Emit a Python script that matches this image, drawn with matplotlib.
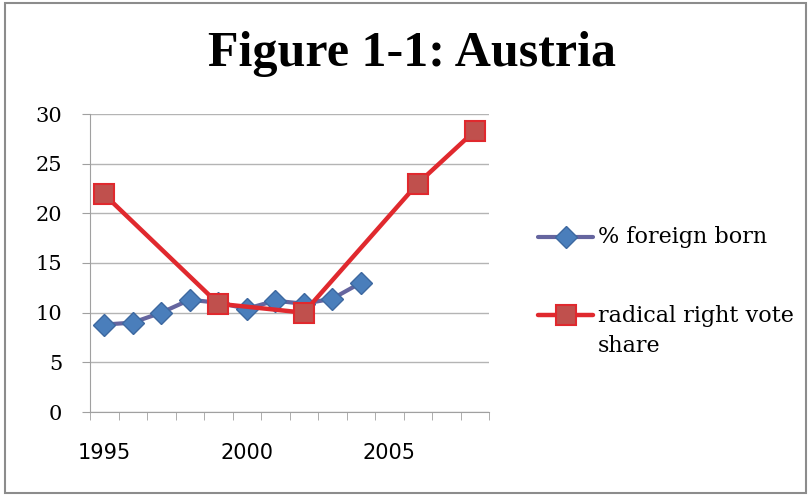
import matplotlib.pyplot as plt
from matplotlib.patches import Rectangle
from matplotlib.lines import Line2D

# data
years = list(range(1995, 2009))
foreign_years = [1995, 1996, 1997, 1998, 1999, 2000, 2001, 2002, 2003, 2004]
foreign_born = [8.8, 9.0, 10.0, 11.3, 11.0, 10.4, 11.2, 10.9, 11.4, 13.0]
vote_years = [1995, 1999, 2002, 2006, 2008]
vote_share = [21.9, 10.9, 10.0, 23.0, 28.3]
xtick_labels = ['1995', '2000', '2005']
series_labels = ['% foreign born', 'radical right vote\nshare']

W, H = 808, 495


def fx(px):
    return px / W


def fy(px):
    return 1 - px / H


def main():
    fig = plt.figure(figsize=(W / 100, H / 100), dpi=100)
    ax = fig.add_axes([fx(90), fy(412), 399 / W, 298 / H])

    # chart area border
    fig.patches.append(Rectangle((fx(5), fy(493)), 801 / W, 490 / H,
                                 transform=fig.transFigure, fill=False,
                                 edgecolor='#8c8c8c', linewidth=1.5))

    # categories are placed 0..13 like an Excel category axis
    xf = [y - years[0] for y in foreign_years]
    xv = [y - years[0] for y in vote_years]

    blue = dict(color='#65659f', linewidth=3, marker='D', markersize=11,
                markerfacecolor='#4a7ebb', markeredgecolor='#3d68a0',
                markeredgewidth=1)
    red = dict(color='#e0292e', linewidth=3.2, marker='s', markersize=14,
               markerfacecolor='#c0504d', markeredgecolor='#e0292e',
               markeredgewidth=1.5)

    ax.plot(xf, foreign_born, zorder=3, **blue)
    ax.plot(xv, vote_share, zorder=4, **red)

    ax.set_xlim(-0.5, len(years) - 0.5)
    ax.set_ylim(0, 30)
    ax.set_yticks(range(0, 31, 5))
    ax.set_xticks([0, 5, 10])
    ax.set_xticklabels(xtick_labels, family=['Liberation Sans Narrow', 'DejaVu Sans'],
                       fontsize=15)
    ax.set_xticks([i - 0.5 for i in range(len(years) + 1)], minor=True)
    ax.tick_params(axis='x', which='major', length=0, pad=22)
    ax.tick_params(axis='x', which='minor', length=6, color='#a0a0a0')
    ax.tick_params(axis='y', length=6, color='#a0a0a0', labelsize=15, pad=14)
    for lab in ax.get_yticklabels():
        lab.set_family('DejaVu Serif')

    ax.grid(axis='y', color='#b4b4b4', linewidth=1)
    ax.set_axisbelow(True)
    for side in ['top', 'right']:
        ax.spines[side].set_visible(False)
    for side in ['left', 'bottom']:
        ax.spines[side].set_color('#a0a0a0')

    fig.text(fx(412), fy(54), 'Figure 1-1: Austria', ha='center',
             va='center', fontsize=36, fontweight='bold', family='Liberation Serif')

    # legend drawn by hand so the handle lines up with the first text line
    for style, label, ly, ty in [(blue, series_labels[0], 237, 237),
                                 (red, series_labels[1], 315, 331)]:
        fig.lines.append(Line2D([fx(538), fx(565.5), fx(593)], [fy(ly)] * 3,
                                transform=fig.transFigure, markevery=[1],
                                solid_capstyle='round', **style))
        fig.text(fx(598), fy(ty), label, ha='left', va='center', fontsize=16,
                 family='DejaVu Serif', linespacing=1.5)

    fig.savefig('out.png', dpi=100)


if __name__ == "__main__":
    main()
